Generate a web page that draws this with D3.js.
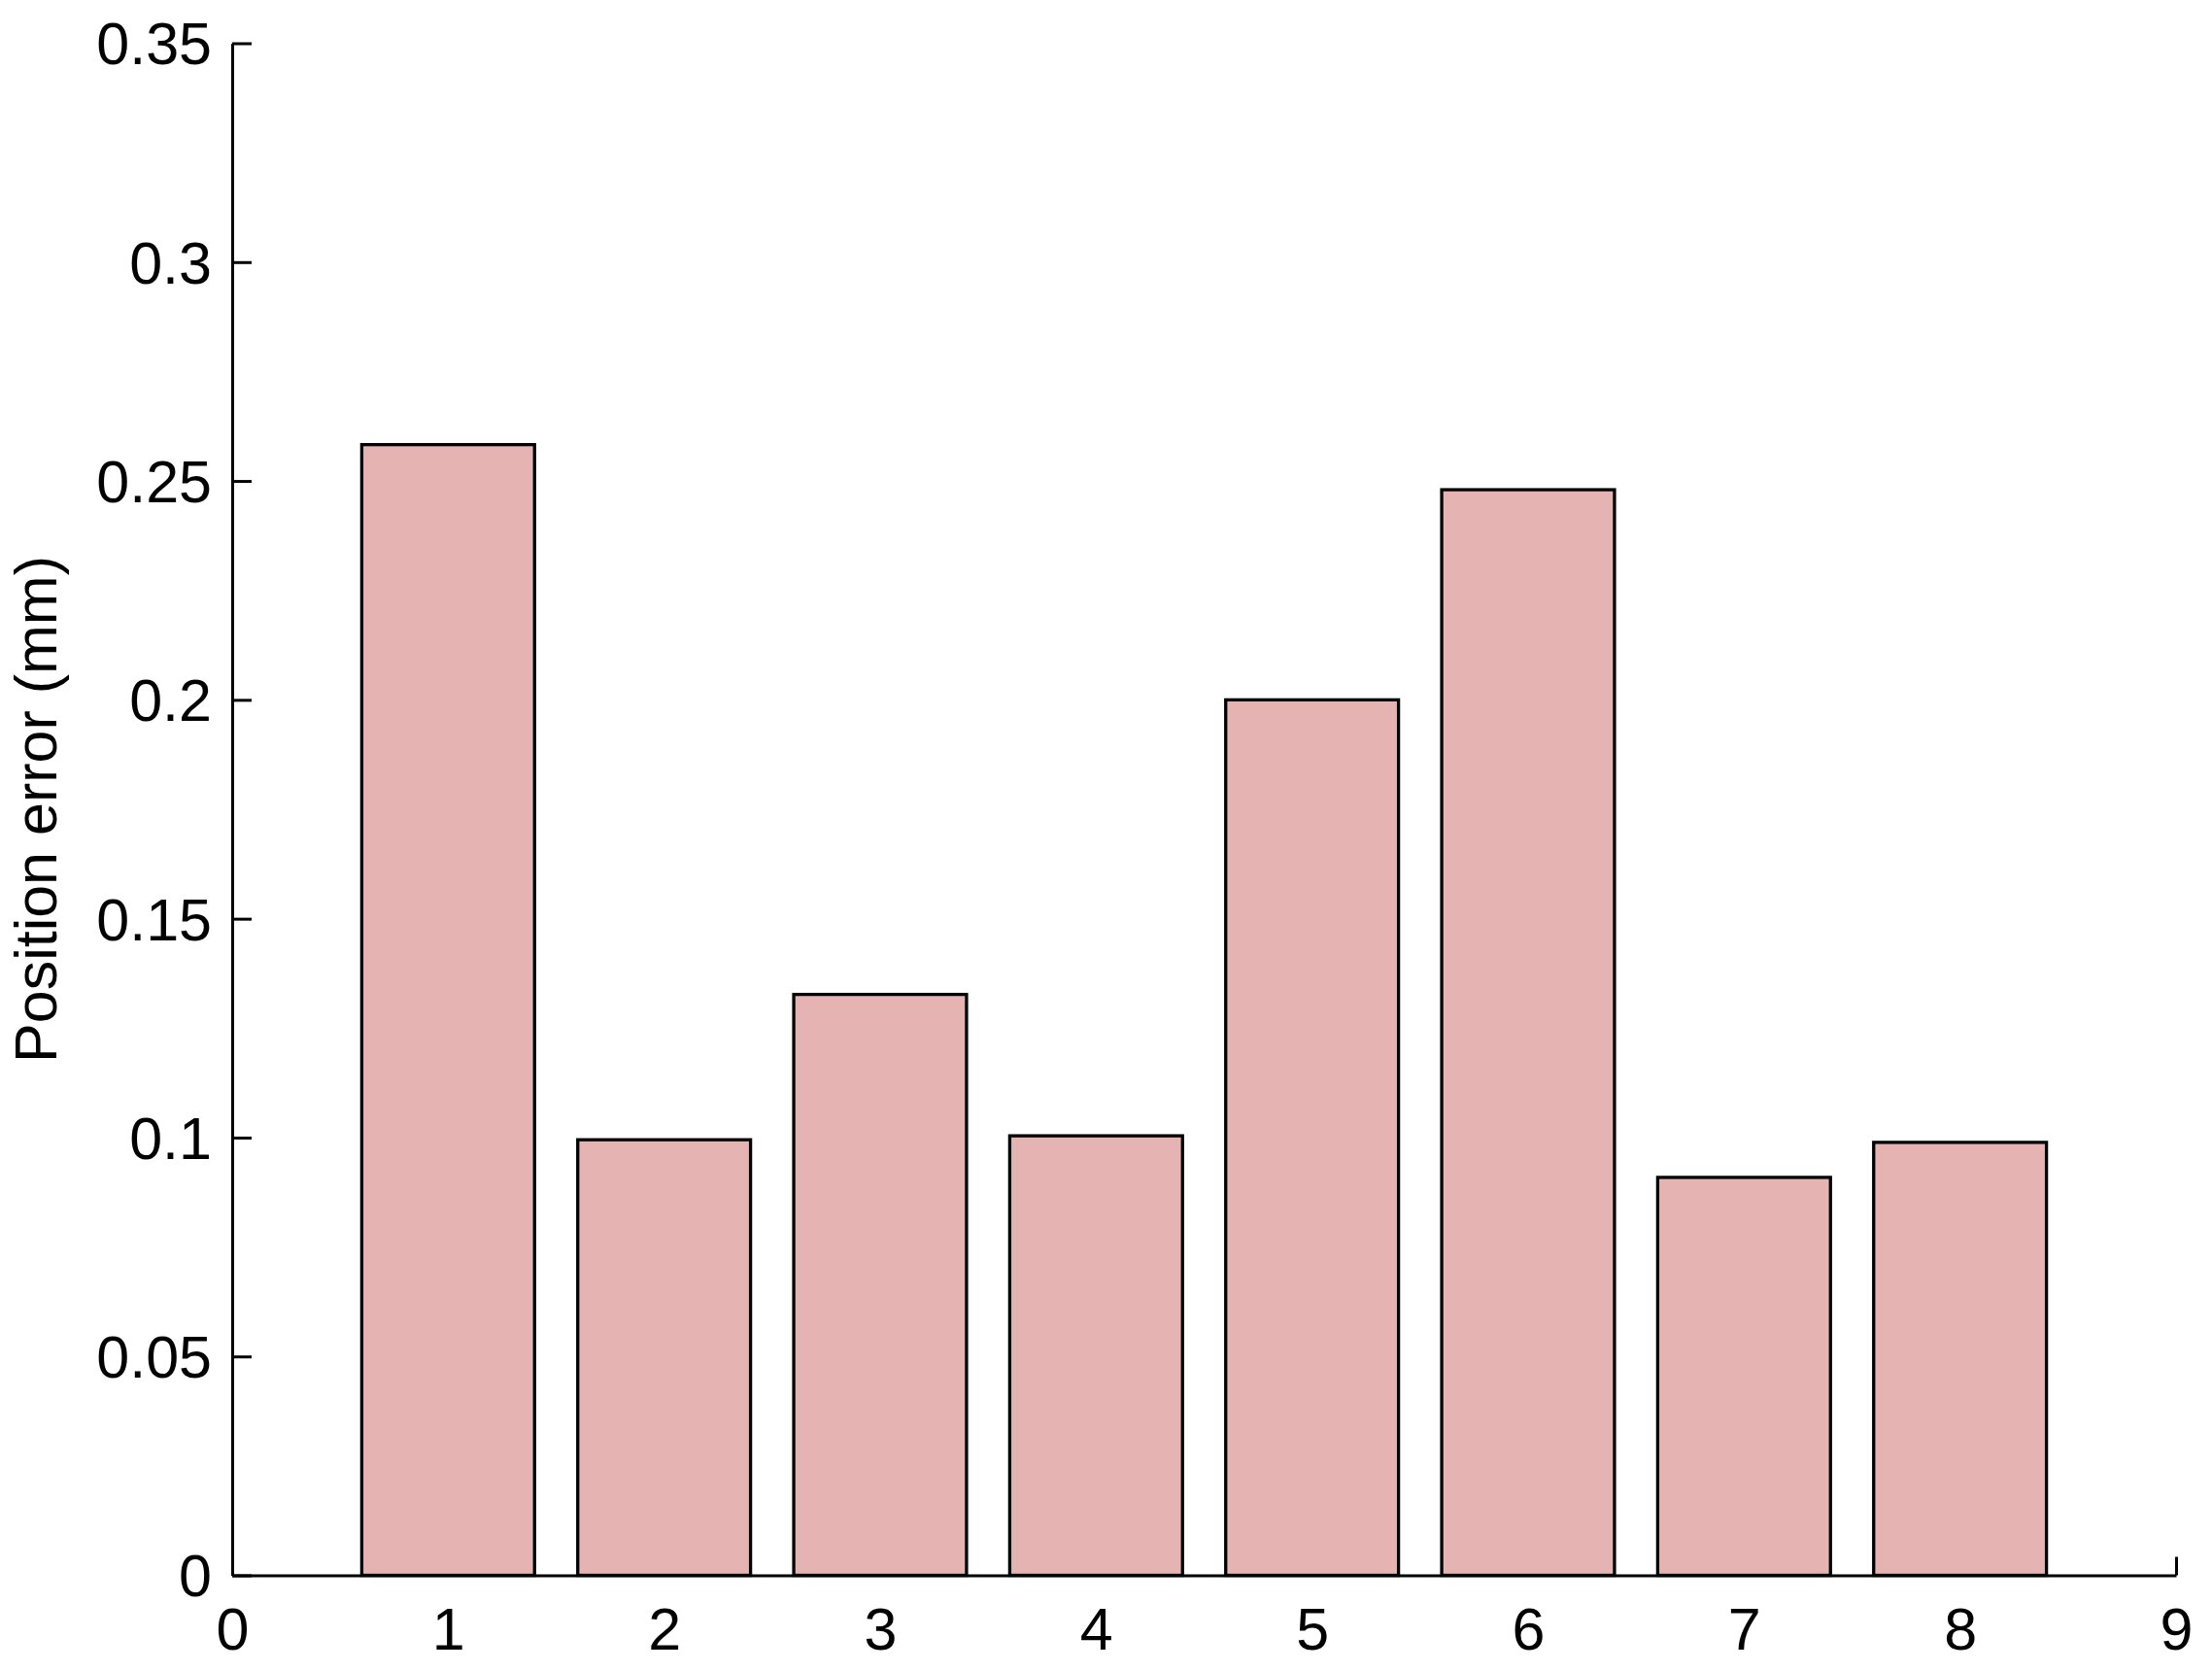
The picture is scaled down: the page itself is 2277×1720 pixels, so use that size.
<!DOCTYPE html>
<html>
<head>
<meta charset="utf-8">
<script src="https://cdn.jsdelivr.net/npm/d3@7"></script>
<style>
  body { margin: 0; background: #fff; }
  text { font-family: "Liberation Sans", Arial, sans-serif; fill: #000; }
</style>
</head>
<body>
<div id="chart"></div>
<script>
let dim = { width: 2277, height: 1720 };
let margin = { left: 239, right: 37, top: 44.5, bottom: 98.5 };

let positions = [1, 2, 3, 4, 5, 6, 7, 8];
let errors = [0.2583, 0.0995, 0.1327, 0.1004, 0.2000, 0.2480, 0.0909, 0.0989];
let xTicks = [0, 1, 2, 3, 4, 5, 6, 7, 8, 9];
let yTicks = [0, 0.05, 0.1, 0.15, 0.2, 0.25, 0.3, 0.35];
let yLabel = 'Position error (mm)';

let fontSize = 61;

let svg = d3.select('#chart').append('svg')
    .attr('width', dim.width)
    .attr('height', dim.height);

let scaleX = d3.scaleLinear()
    .domain([0, 9])
    .range([margin.left, dim.width - margin.right]);

let scaleY = d3.scaleLinear()
    .domain([0, 0.35])
    .range([dim.height - margin.bottom, margin.top]);

let barW = 0.8;

// axes first, bars sit on top of the inward ticks
let axisX = svg.append('g')
    .attr('transform', `translate(0,${scaleY(0)})`)
    .call(d3.axisBottom(scaleX).tickValues(xTicks).tickFormat(d3.format('d'))
        .tickSizeInner(-19).tickSizeOuter(0).tickPadding(36));

let axisY = svg.append('g')
    .attr('transform', `translate(${scaleX(0)},0)`)
    .call(d3.axisLeft(scaleY).tickValues(yTicks).tickFormat(d => d === 0 ? '0' : String(d))
        .tickSizeInner(-20).tickSizeOuter(0).tickPadding(21));

[axisX, axisY].forEach(a => {
    a.select('.domain').attr('stroke', '#000').attr('stroke-width', 3);
    a.selectAll('.tick line').attr('stroke', '#000').attr('stroke-width', 3);
    a.selectAll('.tick text')
        .attr('font-size', fontSize)
        .attr('font-family', '"Liberation Sans", Arial, sans-serif')
        .attr('fill', '#000');
});

axisX.selectAll('.tick text').attr('dy', '0.71em').attr('y', 33);
axisY.selectAll('.tick text').attr('dy', '0.35em');

// bars
svg.selectAll('rect.bar')
    .data(positions)
    .join('rect')
    .attr('class', 'bar')
    .attr('x', (d) => scaleX(d - barW / 2))
    .attr('y', (d, i) => scaleY(errors[i]))
    .attr('width', (d) => scaleX(d + barW / 2) - scaleX(d - barW / 2))
    .attr('height', (d, i) => scaleY(0) - scaleY(errors[i]))
    .attr('fill', '#e6b3b3')
    .attr('stroke', '#000')
    .attr('stroke-width', 3.3);

svg.append('text')
    .attr('transform', `translate(58,${(scaleY(0) + scaleY(0.35)) / 2}) rotate(-90)`)
    .attr('text-anchor', 'middle')
    .attr('font-size', fontSize)
    .text(yLabel);
</script>
</body>
</html>
